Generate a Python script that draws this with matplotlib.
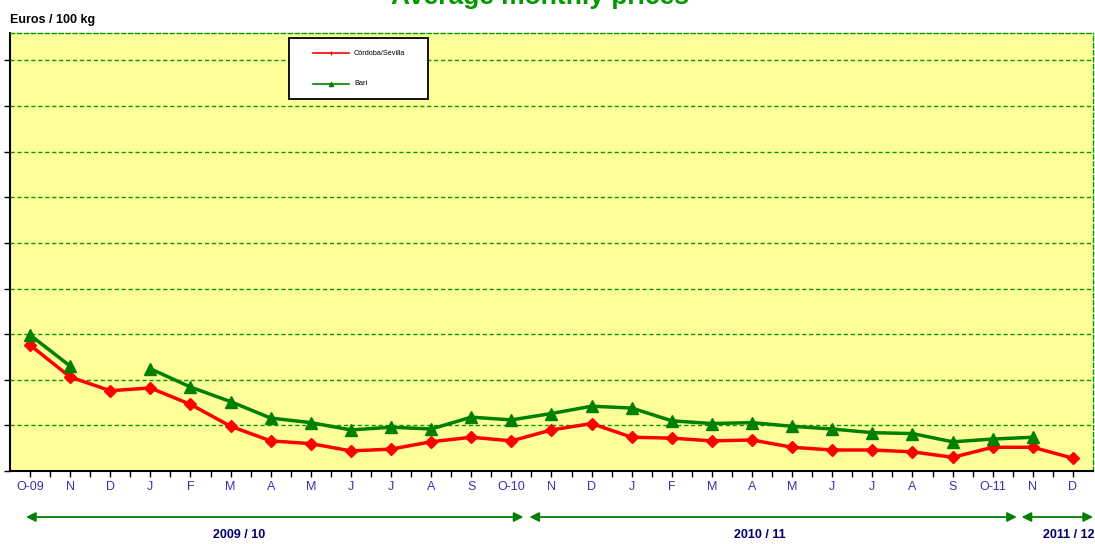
import numpy as np
import matplotlib.pyplot as plt
from matplotlib.lines import Line2D
from matplotlib.patches import Rectangle
from matplotlib.transforms import blended_transform_factory

plt.rcParams['font.family'] = ['Liberation Sans', 'DejaVu Sans']

months = ["O-09", "N", "D", "J", "F", "M", "A", "M", "J", "J", "A", "S",
          "O-10", "N", "D", "J", "F", "M", "A", "M", "J", "J", "A", "S",
          "O-11", "N", "D"]

cordoba = [13.8, 10.3, 8.8, 9.1, 7.3, 4.9, 3.3, 3.0, 2.2, 2.4, 3.2, 3.7,
           3.3, 4.5, 5.2, 3.7, 3.6, 3.3, 3.4, 2.6, 2.3, 2.3, 2.1, 1.5,
           2.6, 2.6, 1.4]

bari = [14.9, 11.5, np.nan, 11.2, 9.2, 7.6, 5.8, 5.3, 4.5, 4.8, 4.6, 5.9,
        5.6, 6.3, 7.1, 6.9, 5.5, 5.2, 5.3, 4.9, 4.6, 4.2, 4.1, 3.2,
        3.5, 3.7, np.nan]

series_names = ["Córdoba/Sevilla", "Bari"]
series_colors = ["#FF0000", "#008000"]

seasons = ["2009 / 10", "2010 / 11", "2011 / 12"]
season_spans = [(-0.1, 12.3), (12.45, 24.6), (24.72, 26.5)]
season_label_x = [5.2, 18.2, 25.9]

fig = plt.figure(figsize=(10.95, 5.44), dpi=100)
ax = fig.add_axes([10 / 1095, 73 / 544, 1083 / 1095, 438 / 544])
ax.set_facecolor("#FFFF99")

x = np.arange(len(months))
ax.plot(x, cordoba, color=series_colors[0], lw=2.5, marker="D", ms=6.5, zorder=3)
ax.plot(x, bari, color=series_colors[1], lw=2.5, marker="^", ms=8.5, zorder=3)

ax.set_xlim(-0.5, len(months) - 0.5)
ax.set_ylim(0, 48)
ax.set_yticks(np.arange(0, 46, 5))
ax.set_yticklabels([])
ax.set_xticks(x)
ax.set_xticks(x[:-1] + 0.5, minor=True)
ax.set_xticklabels(months, fontsize=9, color="#3333AA")
ax.tick_params(axis="both", which="both", direction="out", length=4,
               width=1, color="black")
ax.tick_params(axis="x", pad=3)
ax.grid(axis="y", color="#009900", linestyle=(0, (3, 2)), lw=1)

for s in ["left", "bottom"]:
    ax.spines[s].set_color("black")
    ax.spines[s].set_linewidth(1.5)
for s in ["top", "right"]:
    ax.spines[s].set_color("#009900")
    ax.spines[s].set_linestyle((0, (3, 2)))
    ax.spines[s].set_linewidth(1)

# legend box drawn by hand to get the wide, short frame
ax.add_patch(Rectangle((0.2576, 0.849), 0.1285, 0.1396, transform=ax.transAxes,
                       facecolor="white", edgecolor="black", lw=1.3, zorder=5))
for name, color, ly in zip(series_names, series_colors, [0.954, 0.8836]):
    ax.add_line(Line2D([0.2798, 0.313], [ly, ly], transform=ax.transAxes,
                       color=color, lw=1.2, zorder=6))
    ax.add_line(Line2D([0.2964], [ly], transform=ax.transAxes, color=color,
                       marker="|" if color == "#FF0000" else "^", ms=3, zorder=6))
    ax.text(0.3176, ly, name, transform=ax.transAxes, fontsize=5.3,
            ha="left", va="center", zorder=6)

fig.text(10 / 1095, 1 - 20 / 544, "Euros / 100 kg", fontsize=9,
         fontweight="bold", ha="left", va="center")
fig.text(540 / 1095, 1 - 4 / 544, "Average monthly prices", fontsize=19,
         fontweight="bold", color="#009900", ha="center", va="baseline")

trans = blended_transform_factory(ax.transData, fig.transFigure)
for name, (x0, x1), lx in zip(seasons, season_spans, season_label_x):
    ax.annotate("", xy=(x1, 1 - 517 / 544), xytext=(x0, 1 - 517 / 544),
                xycoords=trans, textcoords=trans, annotation_clip=False,
                arrowprops=dict(arrowstyle="<|-|>", color="#008000", lw=1.3,
                                mutation_scale=14, shrinkA=0, shrinkB=0))
    ax.text(lx, 1 - 535 / 544, name, transform=trans, fontsize=9,
            fontweight="bold", color="#000066", ha="center", va="center")

fig.savefig("out.png", dpi=100)
